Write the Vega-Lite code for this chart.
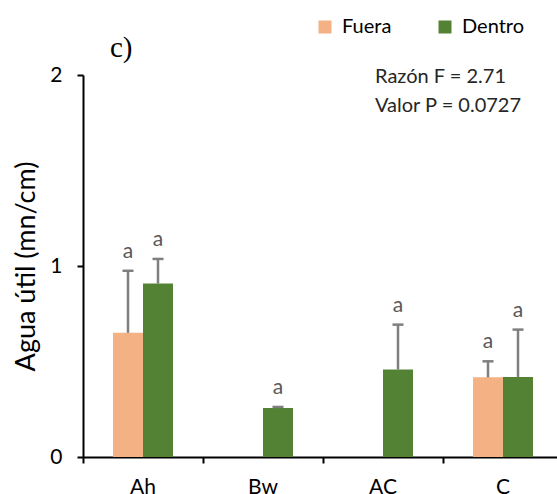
{
  "$schema": "https://vega.github.io/schema/vega-lite/v6.json",
  "autosize": {"type": "none"},
  "width": 474,
  "height": 382,
  "padding": {"left": 83, "top": 75, "right": 0, "bottom": 37},
  "config": {
    "font": "Lato",
    "view": {"stroke": null},
    "axis": {"grid": false, "domainColor": "#000000", "tickColor": "#000000", "labelColor": "#000000", "titleColor": "#000000"}
  },
  "data": {
    "values": [
      {"horizonte": "Ah", "zona": "Fuera", "media": 0.65, "superior": 0.975, "letra": "a"},
      {"horizonte": "Ah", "zona": "Dentro", "media": 0.908, "superior": 1.037, "letra": "a"},
      {"horizonte": "Bw", "zona": "Dentro", "media": 0.257, "superior": 0.262, "letra": "a"},
      {"horizonte": "AC", "zona": "Dentro", "media": 0.458, "superior": 0.693, "letra": "a"},
      {"horizonte": "C", "zona": "Fuera", "media": 0.417, "superior": 0.501, "letra": "a"},
      {"horizonte": "C", "zona": "Dentro", "media": 0.419, "superior": 0.667, "letra": "a"}
    ]
  },
  "encoding": {
    "x": {
      "field": "horizonte",
      "type": "nominal",
      "scale": {"domain": ["Ah", "Bw", "AC", "C"], "range": [0, 480], "paddingInner": 0, "paddingOuter": 0},
      "axis": {
        "title": null,
        "labelAngle": 0,
        "labelFontSize": 21,
        "labelPadding": 13,
        "tickSize": 6,
        "tickWidth": 2,
        "domainWidth": 2,
        "bandPosition": 0
      }
    },
    "xOffset": {
      "field": "zona",
      "type": "nominal",
      "scale": {"domain": ["Fuera", "Dentro"], "paddingOuter": 1, "paddingInner": 0}
    }
  },
  "layer": [
    {
      "mark": {"type": "bar"},
      "encoding": {
        "y": {
          "field": "media",
          "type": "quantitative",
          "scale": {"domain": [0, 2], "nice": false},
          "axis": {
            "title": "Agua útil (mn/cm)",
            "titleFontSize": 27,
            "titleFontWeight": "normal",
            "titlePadding": 9,
            "values": [0, 1, 2],
            "format": ".0f",
            "labelOverlap": false,
            "labelFontSize": 21,
            "labelPadding": 15,
            "tickSize": 6,
            "tickWidth": 2,
            "domainWidth": 2
          }
        },
        "color": {
          "field": "zona",
          "type": "nominal",
          "scale": {"domain": ["Fuera", "Dentro"], "range": ["#F4B183", "#548235"]},
          "legend": {
            "title": null,
            "orient": "none",
            "direction": "horizontal",
            "legendX": 232,
            "legendY": -58,
            "padding": 0,
            "symbolType": "square",
            "symbolSize": 169,
            "symbolStrokeWidth": 0,
            "labelFontSize": 20,
            "labelColor": "#000000",
            "labelOffset": 7,
            "columnPadding": 43
          }
        }
      }
    },
    {
      "mark": {"type": "rule", "color": "#7F7F7F", "strokeWidth": 2.5},
      "encoding": {
        "y": {"field": "superior", "type": "quantitative"},
        "y2": {"field": "media"}
      }
    },
    {
      "mark": {"type": "tick", "color": "#7F7F7F", "thickness": 2.5, "size": 11, "opacity": 1, "orient": "horizontal"},
      "encoding": {
        "y": {"field": "superior", "type": "quantitative"}
      }
    },
    {
      "mark": {"type": "text", "fontSize": 21, "color": "#595959", "baseline": "alphabetic", "dy": -13},
      "encoding": {
        "y": {"field": "superior", "type": "quantitative"},
        "text": {"field": "letra"}
      }
    },
    {
      "data": {"values": [{"texto": "Razón F = 2.71\nValor P = 0.0727"}]},
      "mark": {"type": "text", "fontSize": 20, "color": "#262626", "align": "left", "baseline": "alphabetic", "lineBreak": "\n", "lineHeight": 29, "dx": 52, "dy": 8},
      "encoding": {
        "x": {"datum": "AC", "bandPosition": 0},
        "xOffset": null,
        "y": {"datum": 2},
        "text": {"field": "texto"}
      }
    },
    {
      "data": {"values": [{"panel": "c)"}]},
      "mark": {"type": "text", "font": "Liberation Serif", "fontSize": 29, "color": "#000000", "align": "left", "baseline": "alphabetic", "dx": 27, "dy": -18},
      "encoding": {
        "x": {"datum": "Ah", "bandPosition": 0},
        "xOffset": null,
        "y": {"datum": 2},
        "text": {"field": "panel"}
      }
    }
  ]
}
